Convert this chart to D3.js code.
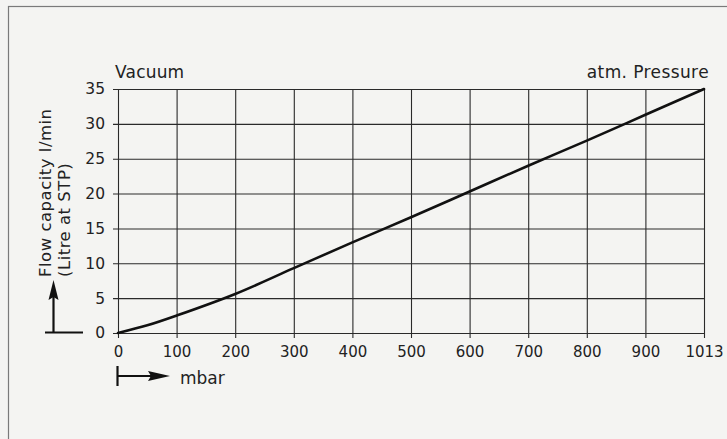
<!DOCTYPE html>
<html>
<head>
<meta charset="utf-8">
<script src="https://cdn.jsdelivr.net/npm/d3@7"></script>
<style>
  html, body { margin: 0; padding: 0; background: #f4f4f2; }
  svg { display: block; }
  text { font-family: "DejaVu Sans", Verdana, sans-serif; fill: #222; }
</style>
</head>
<body>
<svg id="chart" width="727" height="439"></svg>
<script>
// ---- data ----
const pressure = [0, 50, 100, 200, 300, 400, 500, 600, 700, 800, 900, 1013];   // mbar
const flow     = [0, 1.1, 2.5, 5.6, 9.3, 13.0, 16.6, 20.3, 24.0, 27.6, 31.3, 35]; // l/min
const xTicks = [0, 100, 200, 300, 400, 500, 600, 700, 800, 900, 1013];
const yTicks = [0, 5, 10, 15, 20, 25, 30, 35];
const yTitle = ["Flow capacity l/min", "(Litre at STP)"];
const xUnit = "mbar";
const leftLabel = "Vacuum";
const rightLabel = "atm. Pressure";

// ---- layout ----
const L = 118, R = 704, T = 89, B = 333;
const FONT = "'DejaVu Sans', Verdana, sans-serif";
const svg = d3.select("#chart");

// outer frame
svg.append("rect").attr("x", 8.5).attr("y", 6.5).attr("width", 800).attr("height", 500)
  .attr("fill", "none").attr("stroke", "#7a7a7a").attr("stroke-width", 1.2);

const x = d3.scaleLinear()
  .domain(xTicks)
  .range(xTicks.map((d, i) => L + i * (R - L) / (xTicks.length - 1)));
const y = d3.scaleLinear().domain([0, 35]).range([B, T]);

// y axis with gridlines
const gy = svg.append("g").attr("transform", `translate(${L - 5},0)`)
  .call(d3.axisLeft(y).tickValues(yTicks).tickSize(-(R - L + 5)).tickPadding(8));
gy.select(".domain").remove();
gy.selectAll("line").attr("stroke", "#2a2a2a").attr("stroke-width", 1.1);
gy.selectAll("text").attr("font-size", 15.5).attr("fill", "#222").attr("font-family", FONT);

// x axis with gridlines
const gx = svg.append("g").attr("transform", `translate(0,${B + 5})`)
  .call(d3.axisBottom(x).tickValues(xTicks).tickFormat(d3.format("d")).tickSize(-(B - T + 5)).tickPadding(8));
gx.select(".domain").remove();
gx.selectAll("line").attr("stroke", "#2a2a2a").attr("stroke-width", 1.1);
gx.selectAll("text").attr("font-size", 15).attr("fill", "#222").attr("font-family", FONT);

// curve
const pts = pressure.map((p, i) => [p, flow[i]]);
svg.append("path").datum(pts)
  .attr("fill", "none").attr("stroke", "#111").attr("stroke-width", 2.6)
  .attr("stroke-linecap", "round")
  .attr("d", d3.line().x(d => x(d[0])).y(d => y(d[1])).curve(d3.curveCatmullRom.alpha(0.5)));

// top labels
svg.append("text").attr("x", 115).attr("y", 78).attr("font-size", 17).attr("letter-spacing", 0.2).text(leftLabel);
svg.append("text").attr("x", 709).attr("y", 78).attr("font-size", 17).attr("letter-spacing", 0.4)
  .attr("text-anchor", "end").text(rightLabel);

// y title (rotated, two lines)
yTitle.forEach((t, i) => {
  svg.append("text")
    .attr("transform", `translate(${51 + i * 19},277) rotate(-90)`)
    .attr("font-size", 16.5).attr("letter-spacing", 0.5).text(t);
});

// y arrow
svg.append("line").attr("x1", 45).attr("x2", 83).attr("y1", 332.5).attr("y2", 332.5)
  .attr("stroke", "#111").attr("stroke-width", 2.2);
svg.append("line").attr("x1", 53.5).attr("x2", 53.5).attr("y1", 332.5).attr("y2", 296)
  .attr("stroke", "#111").attr("stroke-width", 2.2);
svg.append("path").attr("d", "M53.5,280 L58.5,300 L53.5,297 L48.5,300 Z").attr("fill", "#111");

// x arrow
svg.append("line").attr("x1", 117.5).attr("x2", 117.5).attr("y1", 366).attr("y2", 386)
  .attr("stroke", "#111").attr("stroke-width", 2.2);
svg.append("line").attr("x1", 117.5).attr("x2", 152).attr("y1", 376).attr("y2", 376)
  .attr("stroke", "#111").attr("stroke-width", 2.2);
svg.append("path").attr("d", "M170,376 L148,371 L151,376 L148,381 Z").attr("fill", "#111");
svg.append("text").attr("x", 180).attr("y", 384).attr("font-size", 17).text(xUnit);
</script>
</body>
</html>
